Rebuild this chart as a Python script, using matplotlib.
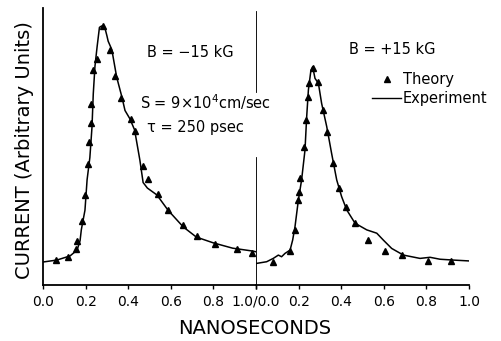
import matplotlib
matplotlib.use("Agg")
import matplotlib.pyplot as plt
from matplotlib.lines import Line2D

# ---- data (current in arbitrary units, 0-100) ----
# B = -15 kG
exp_neg_t = [0.0, 0.065, 0.127, 0.16, 0.174, 0.18, 0.197, 0.207, 0.22, 0.23,
             0.236, 0.244, 0.254, 0.265, 0.275, 0.29, 0.30, 0.306, 0.323, 0.346,
             0.37, 0.385, 0.408, 0.43, 0.455, 0.47, 0.49, 0.535, 0.587, 0.658,
             0.72, 0.80, 0.89, 0.98, 1.0]
exp_neg_i = [8.3, 9.0, 10.5, 12.6, 16.0, 20.0, 27.0, 38.0, 46.0, 57.0,
             69.0, 79.0, 86.0, 93.0, 93.5, 93.0, 90.0, 88.0, 85.0, 75.0,
             68.0, 63.0, 60.0, 56.0, 45.0, 37.0, 35.0, 32.5, 27.0, 21.0,
             17.3, 15.2, 13.3, 12.3, 12.0]
th_neg_t = [0.061, 0.119, 0.153, 0.161, 0.182, 0.196, 0.213, 0.217, 0.224, 0.226,
            0.233, 0.252, 0.283, 0.315, 0.338, 0.366, 0.412, 0.432, 0.471, 0.494,
            0.541, 0.588, 0.659, 0.722, 0.808, 0.912, 0.98]
th_neg_i = [9.0, 10.0, 12.9, 16.0, 23.2, 32.5, 43.6, 51.7, 58.6, 65.2,
            77.6, 81.5, 93.5, 84.8, 75.5, 67.4, 59.9, 55.7, 43.1, 38.2,
            32.9, 27.1, 21.6, 17.7, 14.8, 12.9, 11.4]

# B = +15 kG
exp_pos_t = [0.003, 0.05, 0.081, 0.105, 0.12, 0.136, 0.16, 0.172, 0.183, 0.199,
             0.214, 0.23, 0.238, 0.246, 0.258, 0.266, 0.277, 0.293, 0.308, 0.332,
             0.355, 0.379, 0.402, 0.426, 0.465, 0.52, 0.567, 0.598, 0.637, 0.692,
             0.77, 0.817, 0.864, 0.926, 0.997]
exp_pos_i = [7.8, 8.4, 9.6, 10.8, 10.2, 11.4, 12.6, 16.2, 21.0, 30.7,
             37.9, 48.7, 60.8, 70.4, 77.6, 78.8, 74.6, 72.8, 65.6, 57.2,
             47.5, 37.9, 31.9, 27.1, 22.3, 19.9, 18.7, 16.2, 13.2, 10.8,
             9.6, 10.0, 9.3, 9.0, 8.7]
th_pos_t = [0.078, 0.16, 0.183, 0.196, 0.203, 0.207, 0.225, 0.233, 0.243, 0.249,
            0.266, 0.29, 0.316, 0.335, 0.363, 0.391, 0.423, 0.465, 0.524, 0.606,
            0.687, 0.806, 0.915]
th_pos_i = [8.4, 12.4, 19.9, 30.7, 33.7, 38.5, 50.0, 59.6, 68.0, 72.8,
            78.2, 73.4, 63.2, 55.3, 43.9, 34.9, 28.3, 22.3, 16.2, 12.4,
            10.8, 8.7, 8.7]

ticks = [0.0, 0.2, 0.4, 0.6, 0.8, 1.0]
left_labels = ["0.0", "0.2", "0.4", "0.6", "0.8", "1.0/0.0"]
right_labels = ["", "0.2", "0.4", "0.6", "0.8", "1.0"]

W, H = 501, 341
fig = plt.figure(figsize=(W / 100, H / 100), dpi=100)
plt.rcParams['font.family'] = 'DejaVu Sans'

ax1 = fig.add_axes([43 / W, 56 / H, 213 / W, 277 / H])
ax2 = fig.add_axes([256 / W, 56 / H, 213 / W, 277 / H])
ax2.patch.set_visible(False)

for ax, et, ei, tt, ti, labels in [
        (ax1, exp_neg_t, exp_neg_i, th_neg_t, th_neg_i, left_labels),
        (ax2, exp_pos_t, exp_pos_i, th_pos_t, th_pos_i, right_labels)]:
    ax.plot(et, ei, color='black', lw=1.1)
    ax.plot(tt, ti, ls='none', marker='^', ms=4, color='black')
    ax.set_xlim(0, 1)
    ax.set_ylim(0, 100)
    ax.set_xticks(ticks)
    ax.set_xticklabels(labels, fontsize=10)
    ax.tick_params(axis='x', direction='out', length=3, width=1, pad=4)
    ax.set_yticks([])
    ax.spines['top'].set_visible(False)
    ax.spines['right'].set_visible(False)
    for s in ax.spines.values():
        s.set_linewidth(1.3)

# divider between the two panels is broken around the text
ax2.spines['left'].set_visible(False)
ax2.axvline(0, ymin=0, ymax=0.458, color='black', lw=1.3)
ax2.axvline(0, ymin=0.697, ymax=0.986, color='black', lw=1.3)

ax1.text(0.69, 84, "B = \u221215 kG", fontsize=10.5, ha='center', va='center')
ax1.text(0.455, 66, r"S = 9$\times$10$^4$cm/sec", fontsize=10.5, ha='left',
         va='center', zorder=5)
ax1.text(0.49, 57, "\u03c4 = 250 psec", fontsize=10.5, ha='left', va='center')
ax2.text(0.64, 85, "B = +15 kG", fontsize=10.5, ha='center', va='center')

handles = [Line2D([], [], ls='none', marker='^', ms=4, color='black'),
           Line2D([], [], color='black', lw=1.0)]
fig.legend(handles, ["Theory", "Experiment"], loc='upper left',
           bbox_to_anchor=(372 / W, 1 - 72 / H), frameon=False, fontsize=10.5,
           handlelength=2.0, handletextpad=0.1, labelspacing=0.3, borderpad=0,
           borderaxespad=0)

fig.text(25 / W, 1 - 150 / H, "CURRENT (Arbitrary Units)", rotation=90,
         fontsize=14, ha='center', va='center')
fig.text(255 / W, 1 - 328 / H, "NANOSECONDS", fontsize=14, ha='center', va='center')

fig.savefig("out.png", dpi=100)
